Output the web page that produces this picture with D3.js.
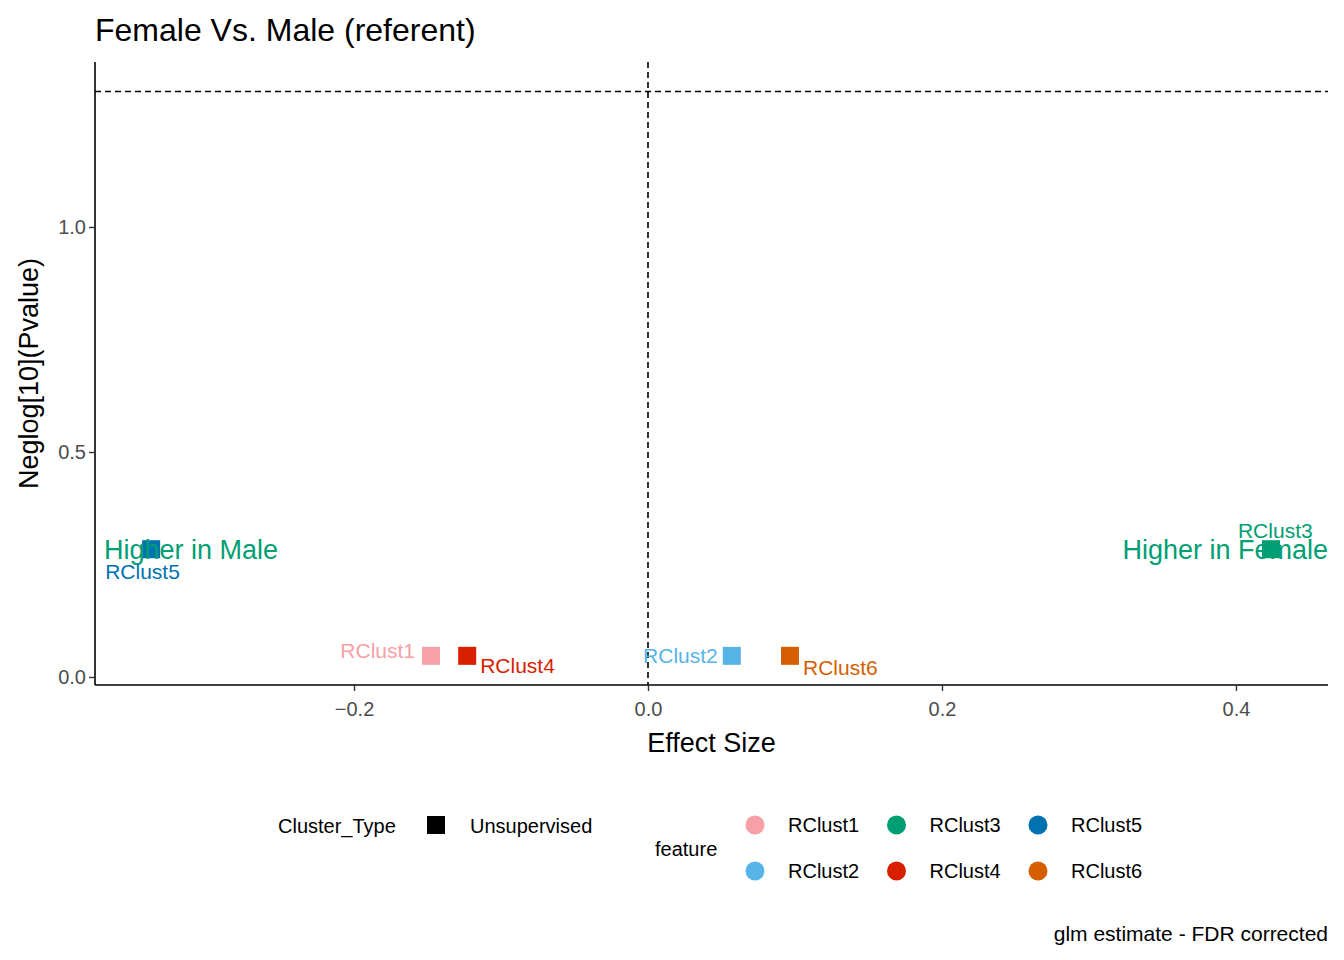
<!DOCTYPE html>
<html><head><meta charset="utf-8">
<script src="https://cdn.jsdelivr.net/npm/d3@7"></script>
<style>body{margin:0;background:#fff}text{font-family:"Liberation Sans",Arial,sans-serif}</style>
</head><body>
<svg id="chart" width="1344" height="960"></svg>
<script>
// data
const features = ["RClust1", "RClust2", "RClust3", "RClust4", "RClust5", "RClust6"];
const effect = [-0.1476, 0.057, 0.4238, -0.123, -0.338, 0.0966];
const neglogP = [0.047, 0.047, 0.284, 0.047, 0.284, 0.047];
const colors = ["#F8A0A6", "#56B4E9", "#009E73", "#D82000", "#0072B2", "#D55E00"];
// label offsets (dx, dy, anchor)
const labelPos = [[-16, -5, "end"], [-14, 0, "end"], [-33, -18, "start"], [13, 10, "start"], [-46, 23, "start"], [13, 12, "start"]];
const xTicks = [-0.2, 0.0, 0.2, 0.4];
const yTicks = [0.0, 0.5, 1.0];

const svg = d3.select("#chart");
const pLeft = 95, pRight = 1328, pTop = 62, pBottom = 685;

const x = d3.scaleLinear().domain([-0.3762, 0.4626]).range([pLeft, pRight]);
const y = d3.scaleLinear().domain([-0.0178, 1.3667]).range([pBottom, pTop]);

// axes
const xAxis = svg.append("g").attr("transform", `translate(0,${pBottom})`)
    .call(d3.axisBottom(x).tickValues(xTicks).tickFormat(d3.format(".1f")).tickSize(6).tickSizeOuter(0));
const yAxis = svg.append("g").attr("transform", `translate(${pLeft},0)`)
    .call(d3.axisLeft(y).tickValues(yTicks).tickFormat(d3.format(".1f")).tickSize(6).tickSizeOuter(0));
[xAxis, yAxis].forEach(a => {
    a.select(".domain").attr("stroke", "#000").attr("stroke-width", 1.6);
    a.selectAll(".tick line").attr("stroke", "#333").attr("stroke-width", 1.4);
    a.selectAll(".tick text").attr("fill", "#4d4d4d").style("font-size", "20px");
});
xAxis.selectAll(".tick text").attr("dy", "1.1em");
xAxis.select(".domain").attr("d", `M${pLeft},0H${pRight}`);
yAxis.select(".domain").attr("d", `M0,${pTop}V${pBottom}`);

// reference lines
svg.append("line").attr("x1", pLeft).attr("x2", pRight).attr("y1", y(1.301)).attr("y2", y(1.301))
    .attr("stroke", "#000").attr("stroke-width", 1.6).attr("stroke-dasharray", "6,4");
svg.append("line").attr("x1", x(0)).attr("x2", x(0)).attr("y1", pTop).attr("y2", pBottom)
    .attr("stroke", "#000").attr("stroke-width", 1.6).attr("stroke-dasharray", "6,4");

// points
svg.selectAll("rect.pt").data(features).enter().append("rect")
    .attr("x", (d, i) => x(effect[i]) - 9).attr("y", (d, i) => y(neglogP[i]) - 9)
    .attr("width", 18).attr("height", 18).attr("fill", (d, i) => colors[i]);

// side annotations
svg.append("text").attr("x", 104).attr("y", y(0.284) + 10).attr("fill", "#009E73")
    .style("font-size", "27px").text("Higher in Male");
svg.append("text").attr("x", 1328).attr("y", y(0.284) + 10).attr("fill", "#009E73")
    .attr("text-anchor", "end").style("font-size", "27px").text("Higher in Female");

// point labels
svg.selectAll("text.lbl").data(features).enter().append("text")
    .attr("x", (d, i) => x(effect[i]) + labelPos[i][0])
    .attr("y", (d, i) => y(neglogP[i]) + labelPos[i][1] + 7)
    .attr("text-anchor", (d, i) => labelPos[i][2])
    .attr("fill", (d, i) => colors[i]).style("font-size", "21px").text(d => d);

// titles
svg.append("text").attr("x", 95).attr("y", 41).style("font-size", "32px").text("Female Vs. Male (referent)");
svg.append("text").attr("x", (pLeft + pRight) / 2).attr("y", 752).attr("text-anchor", "middle")
    .style("font-size", "27px").text("Effect Size");
svg.append("text").attr("transform", `translate(38,${(pTop + pBottom) / 2}) rotate(-90)`)
    .attr("text-anchor", "middle").style("font-size", "27px").text("Neglog[10](Pvalue)");
svg.append("text").attr("x", 1328).attr("y", 941).attr("text-anchor", "end")
    .style("font-size", "21px").text("glm estimate - FDR corrected");

// legends
svg.append("text").attr("x", 278).attr("y", 833).style("font-size", "20px").text("Cluster_Type");
svg.append("rect").attr("x", 427).attr("y", 816).attr("width", 18).attr("height", 18).attr("fill", "#000");
svg.append("text").attr("x", 470).attr("y", 833).style("font-size", "20px").text("Unsupervised");
svg.append("text").attr("x", 655).attr("y", 856).style("font-size", "20px").text("feature");
const lg = svg.selectAll("g.leg").data(features).enter().append("g")
    .attr("transform", (d, i) => `translate(${755 + Math.floor(i / 2) * 141.5},${i % 2 ? 871 : 825})`);
lg.append("circle").attr("r", 9.5).attr("fill", (d, i) => colors[i]);
lg.append("text").attr("x", 33).attr("y", 7).style("font-size", "20px").text(d => d);
</script>
</body></html>
